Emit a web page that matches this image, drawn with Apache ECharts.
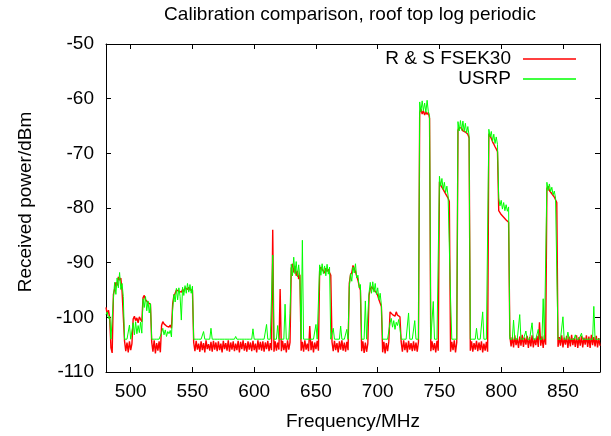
<!DOCTYPE html>
<html>
<head>
<meta charset="utf-8">
<script src="https://cdn.jsdelivr.net/npm/echarts@6/dist/echarts.min.js"></script>
<style>
html,body{margin:0;padding:0;background:#fff;}
#chart{width:611px;height:436px;}
</style>
</head>
<body>
<div id="chart"></div>
<script>
// Spectrum sweep: 480 .. 880 MHz, 1 MHz steps
const freqStartMHz = 480;
const freqStepMHz = 1;

const seriesNames = ['R & S FSEK30', 'USRP'];

// R & S FSEK30 received power (dBm), one value per MHz from 480 MHz
const rsFsek30 = [
  -98.2, -99.4, -98.7, -100.1, -105.6, -106.5, -95.8, -94.8, -93.6, -94.2,
  -92.6, -93.2, -92.8, -95.2, -95.0, -104.3, -106.2, -104.6, -106.4, -104.4,
  -106.0, -104.8, -100.3, -99.8, -100.6, -100.1, -101.0, -99.9, -100.4, -100.8,
  -96.4, -96.0, -96.8, -96.5, -97.3, -97.0, -97.6, -104.5, -106.3, -104.2,
  -106.6, -104.7, -106.1, -104.4, -106.4, -101.5, -100.8, -101.2, -101.0, -101.6,
  -101.3, -101.8, -101.4, -102.0, -97.5, -96.0, -95.6, -95.0, -95.3, -95.2,
  -95.0, -95.4, -94.9, -95.3, -94.6, -94.4, -94.9, -94.5, -95.0, -94.7,
  -95.0, -104.6, -106.2, -104.3, -105.9, -104.8, -106.3, -104.4, -106.0, -104.7,
  -106.4, -104.2, -105.8, -104.9, -106.1, -104.5, -106.3, -104.3, -105.9, -104.6,
  -106.2, -104.4, -106.0, -104.8, -106.4, -104.3, -105.8, -104.7, -106.1, -104.2,
  -106.3, -104.6, -105.9, -104.4, -106.2, -104.8, -106.0, -104.3, -106.4, -104.5,
  -105.8, -104.2, -106.1, -104.7, -106.3, -104.4, -105.9, -104.6, -106.2, -104.3,
  -106.0, -104.8, -106.4, -104.2, -105.9, -104.5, -106.1, -104.4, -106.3, -104.6,
  -105.8, -104.3, -106.2, -104.7, -106.0, -84.0, -106.3, -104.4, -106.1, -104.6,
  -105.9, -94.8, -106.2, -104.3, -106.0, -104.7, -106.4, -104.2, -105.9, -104.6,
  -91.0, -90.2, -91.8, -90.6, -92.4, -91.5, -93.0, -92.2, -106.1, -104.5,
  -106.3, -104.2, -105.9, -104.8, -106.2, -101.6, -106.0, -104.4, -106.4, -104.6,
  -105.8, -104.3, -106.1, -91.5, -90.8, -91.2, -90.9, -91.9, -91.0, -91.6,
  -91.2, -91.8, -92.3, -104.5, -106.2, -104.3, -106.0, -104.7, -106.4, -104.4,
  -105.9, -104.2, -106.1, -104.6, -106.3, -104.5, -106.0, -93.8, -92.2, -91.8,
  -90.5, -90.6, -91.6, -92.5, -93.2, -94.3, -95.0, -106.2, -104.4, -106.5,
  -104.6, -106.3, -104.8, -96.0, -94.8, -94.4, -94.2, -95.0, -94.7, -95.5,
  -96.0, -96.8, -97.0, -98.0, -106.4, -104.5, -106.6, -104.7, -106.2, -104.4,
  -99.0, -98.7, -99.5, -99.2, -99.8, -99.0, -99.6, -99.3, -99.9, -104.5,
  -106.3, -104.2, -106.0, -104.6, -106.4, -104.3, -105.9, -104.7, -106.2, -104.4,
  -106.1, -104.6, -106.3, -104.5, -62.6, -61.9, -62.8, -62.2, -63.0, -62.4,
  -62.9, -62.5, -63.6, -106.2, -104.4, -106.0, -104.7, -106.4, -104.3, -106.1,
  -75.2, -75.8, -76.0, -76.6, -76.8, -77.4, -77.5, -78.2, -78.8, -106.3,
  -104.5, -106.0, -104.2, -106.4, -104.6, -65.8, -65.3, -65.6, -65.4, -65.9,
  -65.6, -66.1, -66.0, -66.5, -67.2, -106.1, -104.4, -106.3, -104.7, -105.9,
  -104.3, -106.2, -104.6, -106.0, -104.4, -106.4, -104.8, -106.1, -104.5, -106.3,
  -66.4, -66.8, -67.3, -67.9, -68.3, -68.8, -69.2, -69.7, -80.5, -80.8,
  -81.2, -81.5, -81.7, -82.0, -82.2, -82.4, -82.6, -103.4, -105.3, -103.6,
  -105.5, -103.3, -105.1, -103.8, -105.6, -103.5, -105.2, -103.2, -105.4, -103.7,
  -105.0, -103.4, -105.6, -103.6, -105.3, -103.3, -105.5, -103.9, -105.1, -103.4,
  -105.4, -100.9, -105.2, -103.5, -105.6, -103.3, -105.0, -76.5, -76.0, -76.8,
  -76.9, -77.4, -77.3, -78.0, -78.5, -79.0, -105.4, -103.6, -105.2, -103.3,
  -105.5, -103.7, -105.0, -103.4, -105.6, -103.5, -105.3, -103.2, -105.1, -103.8,
  -105.4, -103.3, -105.6, -103.6, -105.2, -103.4, -105.5, -103.7, -105.0, -103.3,
  -105.4, -103.5, -105.6, -103.2, -105.1, -103.6, -105.3, -103.4, -105.5, -103.8,
  -105.2
];

// USRP received power (dBm), one value per MHz from 480 MHz
const usrp = [
  -99.5, -99.0, -100.2, -99.8, -104, -104, -96.5, -93.6, -95.8, -92.8,
  -94.6, -91.8, -94.9, -93.8, -96.2, -104, -104, -104, -104, -101.4,
  -104, -104, -101.0, -103.2, -100.8, -103.0, -101.5, -102.8, -100.9, -102.9,
  -96.6, -98.2, -96.2, -98.8, -97.0, -99.2, -97.5, -104, -104, -104,
  -104, -104, -104, -104, -104, -102.8, -102.0, -103.2, -102.3, -103.5,
  -102.6, -103.0, -102.4, -103.6, -98.4, -95.8, -97.2, -94.7, -96.8, -94.6,
  -96.2, -100.5, -94.5, -96.0, -94.2, -95.6, -93.8, -95.4, -94.0, -95.6,
  -94.3, -104, -104, -104, -104, -104, -104, -104, -104, -102.6,
  -104, -104, -104, -104, -104, -102.0, -104, -104, -104, -104,
  -104, -104, -104, -104, -104, -104, -104, -104, -104, -104,
  -104, -104, -104, -104, -104, -103.5, -104, -104, -104, -104,
  -104, -104, -104, -104, -104, -104, -104, -104, -104, -102.1,
  -104, -104, -104, -104, -104, -104, -104, -104, -104, -104,
  -101.3, -104, -104, -104, -104, -88.6, -104, -104, -104, -101.5,
  -104, -104, -104, -104, -104, -97.6, -104, -104, -104, -99.3,
  -90.3, -92.4, -89.0, -92.0, -89.8, -92.6, -90.4, -92.8, -104, -85.9,
  -104, -104, -104, -104, -104, -104, -104, -104, -104, -104,
  -101.3, -104, -104, -90.4, -92.3, -90.2, -92.0, -90.6, -92.4, -90.3,
  -92.1, -90.8, -104, -104, -102.0, -104, -104, -104, -104, -104,
  -101.6, -104, -104, -104, -104, -102.2, -104, -94.5, -92.0, -93.4,
  -90.8, -91.9, -90.2, -92.8, -92.3, -94.6, -94.0, -104, -104, -104,
  -97.0, -104, -104, -95.5, -93.6, -95.6, -93.5, -95.4, -93.8, -95.8,
  -94.6, -96.8, -95.6, -97.8, -104, -104, -104, -104, -104, -104,
  -101.0, -100.2, -101.8, -100.6, -102.2, -100.9, -101.5, -100.4, -102.0, -104,
  -104, -104, -104, -104, -104, -99.2, -104, -104, -104, -104,
  -100.6, -104, -104, -104, -60.6, -62.4, -60.4, -62.2, -60.8, -62.5,
  -60.3, -62.4, -63.2, -104, -104, -97.1, -104, -104, -104, -104,
  -74.2, -76.0, -74.6, -76.6, -75.3, -77.2, -76.0, -77.8, -77.6, -96.7,
  -104, -104, -104, -104, -104, -64.2, -65.9, -64.0, -65.8, -64.1,
  -66.0, -64.5, -66.3, -65.1, -66.8, -104, -104, -104, -104, -104,
  -102.0, -104, -104, -104, -104, -99.0, -104, -104, -104, -104,
  -65.6, -67.0, -66.0, -67.8, -66.5, -68.2, -67.0, -68.4, -78.2, -79.6,
  -78.6, -80.2, -79.0, -80.5, -79.4, -80.6, -79.8, -104, -104, -104,
  -100.5, -104, -104, -104, -104, -99.5, -104, -104, -104, -104,
  -102.5, -104, -104, -104, -104, -101.0, -104, -104, -104, -104,
  -102.2, -104, -104, -104, -96.6, -104, -104, -75.3, -76.8, -75.6,
  -77.0, -76.2, -77.6, -76.9, -78.2, -78.0, -104, -104, -104, -104,
  -99.9, -104, -104, -104, -102.7, -104, -104, -104, -104, -104,
  -103.2, -104, -104, -104, -104, -102.9, -104, -104, -104, -104,
  -104, -104, -104, -104, -104, -98.0, -104, -104, -104, -104,
  -104
];

const freq = rsFsek30.map((_, i) => freqStartMHz + i * freqStepMHz);

const FONT = '"Liberation Sans", Arial, Helvetica, sans-serif';
const chart = echarts.init(document.getElementById('chart'), null, {renderer: 'canvas'});

const axisLineStyle = {show: true, lineStyle: {color: '#000', width: 1}};
const axisTickStyle = {show: true, inside: true, length: 5, lineStyle: {color: '#000', width: 1}};

function legendFor(name, top) {
  return {
    data: [{name: name, icon: 'rect'}],
    right: 35, top: top, padding: 0,
    align: 'right', orient: 'vertical',
    itemWidth: 53, itemHeight: 1.5,
    textStyle: {fontFamily: FONT, fontSize: 19, color: '#000', padding: [0, 7, 0, 0], lineHeight: 20}
  };
}

chart.setOption({
  animation: false,
  backgroundColor: '#fff',
  title: {
    text: 'Calibration comparison, roof top log periodic',
    left: 350,
    top: 5,
    padding: 0,
    textAlign: 'center',
    textStyle: {fontFamily: FONT, fontSize: 19, fontWeight: 'normal', color: '#000'}
  },
  legend: [legendFor(seriesNames[0], 49), legendFor(seriesNames[1], 69)],
  grid: {left: 106, right: 11, top: 44, bottom: 64, containLabel: false},
  xAxis: [
    {
      type: 'value', min: 480, max: 880, splitNumber: 8,
      name: 'Frequency/MHz', nameLocation: 'middle', nameGap: 40,
      nameTextStyle: {fontFamily: FONT, fontSize: 19, color: '#000'},
      axisLine: axisLineStyle, axisTick: axisTickStyle,
      axisLabel: {fontFamily: FONT, fontSize: 19, color: '#000', margin: 10, showMinLabel: false, showMaxLabel: false},
      splitLine: {show: false}
    },
    {
      type: 'value', min: 480, max: 880, splitNumber: 8, position: 'top',
      axisLine: axisLineStyle, axisTick: axisTickStyle,
      axisLabel: {show: false}, splitLine: {show: false}
    }
  ],
  yAxis: [
    {
      type: 'value', min: -110, max: -50, interval: 10,
      name: 'Received power/dBm', nameLocation: 'middle', nameGap: 71,
      nameTextStyle: {fontFamily: FONT, fontSize: 19, color: '#000', padding: [0, 0, 0, 12]},
      axisLine: axisLineStyle, axisTick: axisTickStyle,
      axisLabel: {fontFamily: FONT, fontSize: 19, color: '#000', margin: 12},
      splitLine: {show: false}
    },
    {
      type: 'value', min: -110, max: -50, interval: 10, position: 'right',
      axisLine: axisLineStyle, axisTick: axisTickStyle,
      axisLabel: {show: false}, splitLine: {show: false}
    }
  ],
  series: [
    {
      name: seriesNames[0], type: 'line', xAxisIndex: 0, yAxisIndex: 0,
      showSymbol: false, symbol: 'none', sampling: false,
      lineStyle: {color: '#ff0000', width: 1.4},
      itemStyle: {color: '#ff0000'},
      data: freq.map((f, i) => [f, rsFsek30[i]]),
      z: 2
    },
    {
      name: seriesNames[1], type: 'line', xAxisIndex: 0, yAxisIndex: 0,
      showSymbol: false, symbol: 'none', sampling: false,
      lineStyle: {color: '#00ff00', width: 1},
      itemStyle: {color: '#00ff00'},
      data: freq.map((f, i) => [f, usrp[i]]),
      z: 3
    }
  ]
});
</script>
</body>
</html>
